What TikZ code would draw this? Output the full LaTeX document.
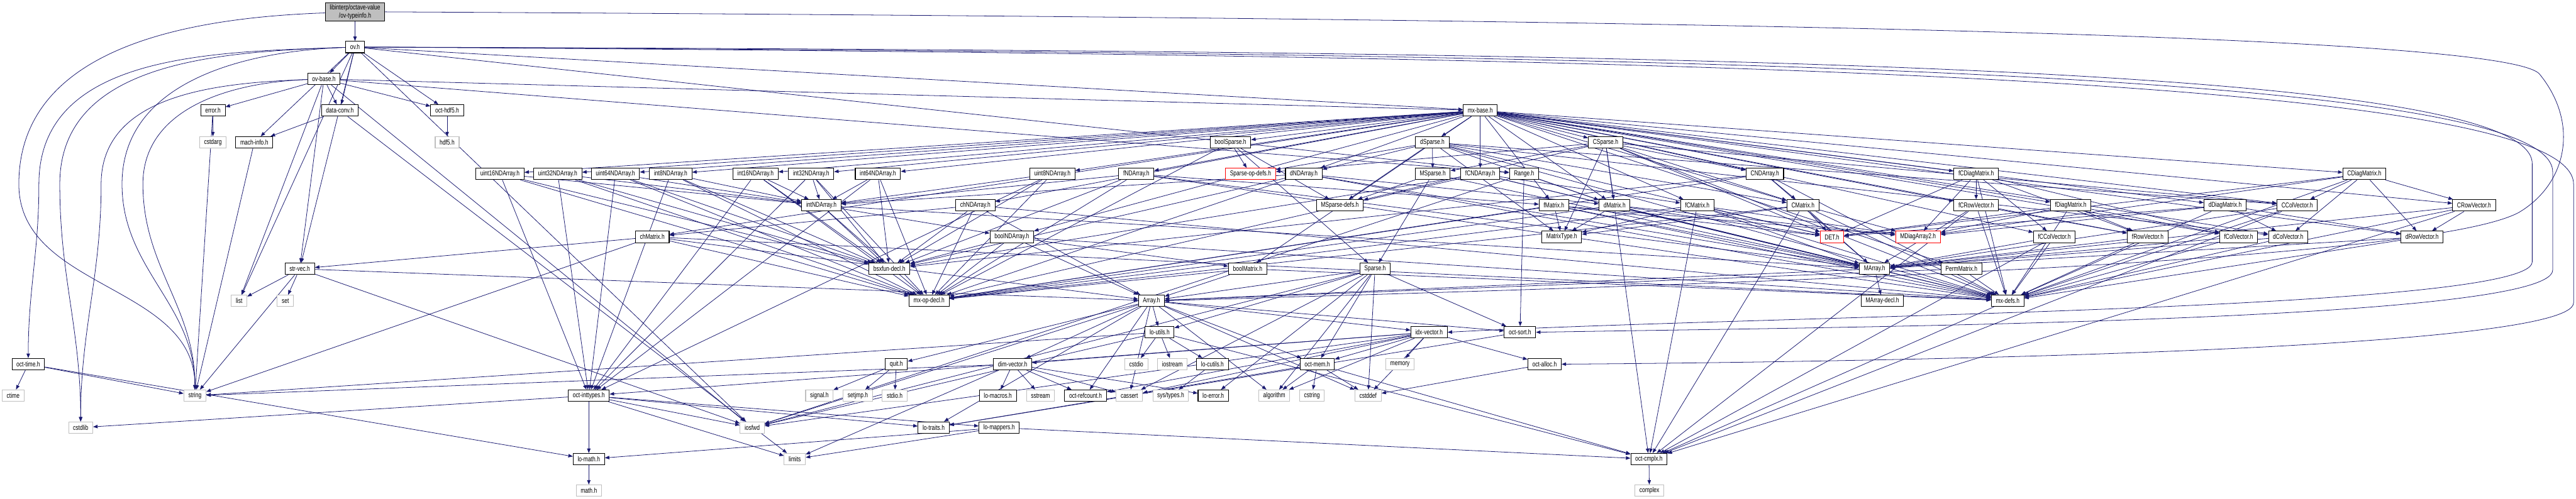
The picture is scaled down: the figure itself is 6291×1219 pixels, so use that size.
\documentclass[tikz,border=0pt]{standalone}
\usepackage{fontspec}
\newfontfamily\graphfont[FakeStretch=0.76]{Liberation Sans}
\usepackage{xcolor}
\usepackage{tikz}
\usetikzlibrary{arrows.meta,backgrounds}
\definecolor{edgeblue}{HTML}{191970}
\definecolor{sysgray}{HTML}{BFBFBF}

\begin{document}
\begin{tikzpicture}[
    x=0.5pt, y=-0.5pt,
    hdr/.style={draw=black, line width=0.8pt, fill=white, minimum height=14pt, inner xsep=5.5pt, inner ysep=0pt, font=\graphfont\fontsize{8.6pt}{10.4pt}\selectfont},
    sysh/.style={hdr, draw=sysgray},
    trunc/.style={hdr, draw=red},
    rootnode/.style={hdr, fill=sysgray, align=center, minimum height=22.5pt},
    incl/.style={-{Triangle[length=5.5pt,width=4.2pt]}, draw=edgeblue, line width=0.6pt}
]
\useasboundingbox (0,0) rectangle (6291,1219);

\node[rootnode] (typeinfo) at (867,29) {libinterp/octave-value\\/ov-typeinfo.h};
\node[hdr] (ov) at (867,115) {ov.h};
\node[hdr] (ovbase) at (791,193) {ov-base.h};

\node[hdr] (error) at (520,270) {error.h};
\node[hdr] (dataconv) at (830,270) {data-conv.h};
\node[hdr] (octhdf5) at (1092,270) {oct-hdf5.h};
\node[hdr] (mxbase) at (3615,270) {mx-base.h};

\node[sysh] (cstdarg) at (520,348) {cstdarg};
\node[hdr] (machinfo) at (621,348) {mach-info.h};
\node[sysh] (hdf5) at (1092,348) {hdf5.h};
\node[hdr] (boolsparse) at (3005,348) {boolSparse.h};
\node[hdr] (dsparse) at (3498,348) {dSparse.h};
\node[hdr] (csparse) at (3921,348) {CSparse.h};

\node[hdr] (u16nd) at (1221,425) {uint16NDArray.h};
\node[hdr] (u32nd) at (1362,425) {uint32NDArray.h};
\node[hdr] (u64nd) at (1503,425) {uint64NDArray.h};
\node[hdr] (i8nd) at (1638,425) {int8NDArray.h};
\node[hdr] (i16nd) at (1845,425) {int16NDArray.h};
\node[hdr] (i32nd) at (1981,425) {int32NDArray.h};
\node[hdr] (i64nd) at (2144,425) {int64NDArray.h};
\node[hdr] (u8nd) at (2570,425) {uint8NDArray.h};
\node[hdr] (fnd) at (2775,425) {fNDArray.h};
\node[trunc] (sparseop) at (3054,425) {Sparse-op-defs.h};
\node[hdr] (dnd) at (3184,425) {dNDArray.h};
\node[hdr] (msparse) at (3499,425) {MSparse.h};
\node[hdr] (fcnd) at (3615,425) {fCNDArray.h};
\node[hdr] (range) at (3722,425) {Range.h};
\node[hdr] (cnd) at (4310,425) {CNDArray.h};
\node[hdr] (fcdiag) at (4826,425) {fCDiagMatrix.h};
\node[hdr] (cdiag) at (5774,425) {CDiagMatrix.h};

\node[hdr] (intnd) at (2006,502) {intNDArray.h};
\node[hdr] (chnd) at (2382,502) {chNDArray.h};
\node[hdr] (msparsedefs) at (3272,502) {MSparse-defs.h};
\node[hdr] (fmat) at (3795,502) {fMatrix.h};
\node[hdr] (dmat) at (3943,502) {dMatrix.h};
\node[hdr] (fcmat) at (4145,502) {fCMatrix.h};
\node[hdr] (cmat) at (4403,502) {CMatrix.h};
\node[hdr] (fcrow) at (4826,502) {fCRowVector.h};
\node[hdr] (fdiag) at (5057,502) {fDiagMatrix.h};
\node[hdr] (ddiag) at (5434,502) {dDiagMatrix.h};
\node[hdr] (ccol) at (5610,502) {CColVector.h};
\node[hdr] (crow) at (6042,502) {CRowVector.h};

\node[hdr] (chmat) at (1593,579) {chMatrix.h};
\node[hdr] (boolnd) at (2471,579) {boolNDArray.h};
\node[hdr] (mtype) at (3814,579) {MatrixType.h};
\node[trunc] (det) at (4474,579) {DET.h};
\node[trunc] (mdiag) at (4684,579) {MDiagArray2.h};
\node[hdr] (fccol) at (5017,579) {fCColVector.h};
\node[hdr] (frow) at (5245,579) {fRowVector.h};
\node[hdr] (fcol) at (5467,579) {fColVector.h};
\node[hdr] (dcol) at (5588,579) {dColVector.h};
\node[hdr] (drow) at (5915,579) {dRowVector.h};

\node[hdr] (strvec) at (732,657) {str-vec.h};
\node[hdr] (bsxfun) at (2172,657) {bsxfun-decl.h};
\node[hdr] (boolmat) at (3047,657) {boolMatrix.h};
\node[hdr] (sparse) at (3358,657) {Sparse.h};
\node[hdr] (marray) at (4578,657) {MArray.h};
\node[hdr] (perm) at (4790,657) {PermMatrix.h};

\node[sysh] (list) at (584,735) {list};
\node[sysh] (set) at (697,735) {set};
\node[hdr] (mxop) at (2269,735) {mx-op-decl.h};
\node[hdr] (array) at (2812,735) {Array.h};
\node[hdr] (marraydecl) at (4597,735) {MArray-decl.h};
\node[hdr] (mxdefs) at (4903,735) {mx-defs.h};

\node[hdr] (loutils) at (2832,812) {lo-utils.h};
\node[hdr] (idxvec) at (3490,812) {idx-vector.h};
\node[hdr] (octsort) at (3712,812) {oct-sort.h};

\node[hdr] (octtime) at (69,890) {oct-time.h};
\node[hdr] (quit) at (2189,890) {quit.h};
\node[hdr] (dimvec) at (2473,890) {dim-vector.h};
\node[sysh] (cstdio) at (2775,890) {cstdio};
\node[sysh] (iostream) at (2863,890) {iostream};
\node[hdr] (locutils) at (2961,890) {lo-cutils.h};
\node[hdr] (octmem) at (3217,890) {oct-mem.h};
\node[sysh] (memory) at (3419,890) {memory};
\node[hdr] (octalloc) at (3772,890) {oct-alloc.h};

\node[sysh] (ctime) at (32,967) {ctime};
\node[sysh] (string) at (476,967) {string};
\node[hdr] (inttypes) at (1438,967) {oct-inttypes.h};
\node[sysh] (signal) at (2001,967) {signal.h};
\node[sysh] (setjmp) at (2095,967) {setjmp.h};
\node[sysh] (stdio) at (2185,967) {stdio.h};
\node[hdr] (lomacros) at (2437,967) {lo-macros.h};
\node[sysh] (sstream) at (2541,967) {sstream};
\node[hdr] (refcount) at (2651,967) {oct-refcount.h};
\node[sysh] (cassert) at (2758,967) {cassert};
\node[sysh] (systypes) at (2859,967) {sys/types.h};
\node[hdr] (loerror) at (2963,967) {lo-error.h};
\node[sysh] (algorithm) at (3112,967) {algorithm};
\node[sysh] (cstring) at (3204,967) {cstring};
\node[sysh] (cstddef) at (3341,967) {cstddef};

\node[sysh] (cstdlib) at (197,1045) {cstdlib};
\node[sysh] (iosfwd) at (1837,1045) {iosfwd};
\node[hdr] (lotraits) at (2280,1045) {lo-traits.h};
\node[hdr] (lomappers) at (2440,1045) {lo-mappers.h};

\node[hdr] (lomath) at (1438,1122) {lo-math.h};
\node[sysh] (limits) at (1941,1122) {limits};
\node[hdr] (octcmplx) at (4027,1122) {oct-cmplx.h};

\node[sysh] (mathh) at (1438,1199) {math.h};
\node[sysh] (complex) at (4028,1199) {complex};

\begin{scope}[on background layer]
\foreach \a/\bs in {
    typeinfo/{ov},
    ov/{ovbase,iosfwd,list,range,dataconv,machinfo,mxbase,strvec,octhdf5},
    ovbase/{error,dataconv,octhdf5,mxbase,list,iosfwd,strvec,range},
    error/{cstdarg,string},
    dataconv/{machinfo,limits},
    machinfo/{string},
    octhdf5/{hdf5},
    octtime/{ctime,string,lomath},
    strvec/{list,set,string,iosfwd,array},
    mxbase/{boolsparse,dsparse,csparse,u16nd,u32nd,u64nd,i8nd,i16nd,i32nd,i64nd,u8nd,fnd,dnd,fcnd,cnd,fcdiag,cdiag,chnd,chmat,boolnd,boolmat,fmat,dmat,fcmat,cmat,fdiag,ddiag,fcrow,crow,fccol,ccol,frow,fcol,dcol,drow,perm},
    u16nd/{intnd,mxop,inttypes,bsxfun},
    u32nd/{intnd,mxop,inttypes,bsxfun},
    u64nd/{intnd,mxop,inttypes,bsxfun},
    i8nd/{intnd,mxop,inttypes,bsxfun},
    i16nd/{intnd,mxop,inttypes,bsxfun},
    i32nd/{intnd,mxop,inttypes,bsxfun},
    i64nd/{intnd,mxop,inttypes,bsxfun},
    u8nd/{intnd,mxop,inttypes,bsxfun},
    intnd/{marray,boolnd,mxop,bsxfun},
    chnd/{chmat,array,mxdefs,mxop,bsxfun},
    chmat/{strvec,array,mxdefs,mxop,string},
    boolnd/{boolmat,array,mxdefs,mxop,bsxfun},
    boolmat/{array,mxdefs,mxop},
    fnd/{fmat,marray,intnd,mxdefs,mxop,bsxfun},
    dnd/{dmat,marray,intnd,mxdefs,mxop,bsxfun},
    fcnd/{fcmat,marray,mxdefs,mxop,bsxfun},
    cnd/{cmat,marray,mxdefs,mxop,bsxfun},
    fmat/{marray,mdiag,mtype,mxdefs,mxop,det},
    dmat/{marray,mdiag,mtype,mxdefs,mxop,det},
    fcmat/{marray,mdiag,mtype,mxdefs,mxop,det,octcmplx},
    cmat/{marray,mdiag,mtype,mxdefs,mxop,det,octcmplx},
    boolsparse/{sparse,msparsedefs,sparseop,mxop},
    dsparse/{dmat,dnd,cmat,dcol,ccol,det,msparse,msparsedefs,sparseop,mtype,mxdefs},
    csparse/{cmat,cnd,dmat,ccol,det,msparse,msparsedefs,sparseop,mtype,mxdefs,octcmplx},
    msparse/{marray,sparse,msparsedefs},
    range/{dmat,octsort,iosfwd},
    fcdiag/{mdiag,frow,fcrow,fcol,fccol,det,mxdefs},
    cdiag/{mdiag,drow,crow,dcol,ccol,det,mxdefs},
    fdiag/{mdiag,frow,fcol,det,mxdefs},
    ddiag/{mdiag,drow,dcol,det,mxdefs},
    fcrow/{marray,frow,mxdefs,octcmplx},
    crow/{marray,drow,mxdefs,octcmplx},
    fccol/{marray,mxdefs,octcmplx},
    ccol/{marray,mxdefs,octcmplx},
    frow/{marray,mxdefs},
    fcol/{marray,mxdefs},
    dcol/{marray,mxdefs},
    drow/{marray,mxdefs},
    perm/{array,mxdefs},
    marray/{array,marraydecl},
    sparse/{array,octsort,octmem,algorithm,cstddef,cassert,iosfwd,loutils,loerror},
    array/{dimvec,idxvec,lotraits,loutils,octsort,quit,octmem,refcount,cassert,cstddef,algorithm,iosfwd},
    loutils/{cstdio,iostream,locutils,string,iosfwd,octcmplx},
    locutils/{systypes},
    quit/{signal,setjmp,stdio},
    dimvec/{cassert,limits,sstream,string,loerror,lomacros,refcount},
    idxvec/{cassert,algorithm,iosfwd,memory,dimvec,inttypes,octalloc,octmem,refcount,cstddef},
    octsort/{lotraits},
    octmem/{cstddef,cstring,algorithm,octcmplx,lotraits},
    octalloc/{cstddef},
    inttypes/{cstdlib,iosfwd,limits,lomath,lotraits,lomappers},
    lomappers/{lomath,limits,octcmplx},
    lomath/{mathh},
    octcmplx/{complex},
    mxdefs/{octcmplx}} {
    \foreach \b in \bs {
        \draw[incl] (\a) -- (\b);
    }
}
\foreach \a/\b/\bx in {typeinfo/string/46, ov/octtime/95, ov/cstdlib/146, ovbase/cstdlib/247, ov/string/298, ovbase/string/349} {
    \draw[incl] (\a) to[out=182,in=90] (\bx,450) to[out=-90,in=90] (\b);
}
\draw[incl] (typeinfo.east) .. controls (4000,45) and (6100,80) .. (6201,180) .. controls (6300,300) and (6270,450) .. (6150,520) .. controls (5900,650) and (4000,700) .. (array.east);
\draw[incl] (ov.east) .. controls (4000,125) and (6184,150) .. (6184,400) -- (6184,640) .. controls (6184,760) and (4300,770) .. (idxvec.east);
\draw[incl] (ov.east) .. controls (4000,130) and (6234,165) .. (6234,420) -- (6234,660) .. controls (6234,790) and (4400,800) .. (octsort.east);
\draw[incl] (ov.east) .. controls (4000,135) and (6285,180) .. (6285,450) -- (6285,740) .. controls (6285,860) and (4500,885) .. (octalloc.east);
\end{scope}
\end{tikzpicture}
\end{document}
